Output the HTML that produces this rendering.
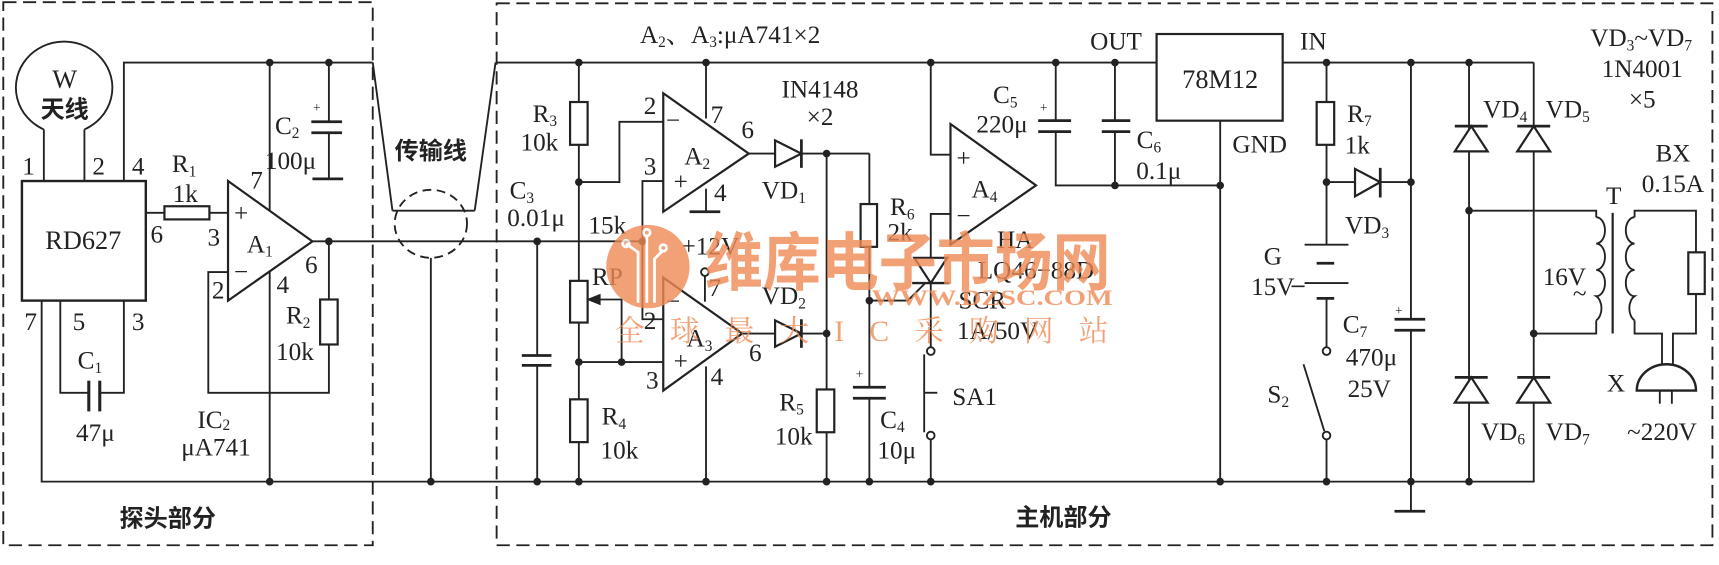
<!DOCTYPE html>
<html><head><meta charset="utf-8"><style>
html,body{margin:0;padding:0;background:#fff;}
svg{display:block;}
text{font-family:"Liberation Serif","Noto Serif CJK SC",serif;fill:#222;}
.cn{font-family:"Liberation Sans","Noto Sans CJK SC",sans-serif;font-weight:bold;}
</style></head><body>
<svg width="1719" height="565" viewBox="0 0 1568 515" preserveAspectRatio="none" xmlns="http://www.w3.org/2000/svg">
<g fill="none" stroke="#222" stroke-width="1.7">
<rect x="3" y="2" width="337" height="495" stroke-dasharray="12,6"/>
<rect x="453" y="3" width="1109" height="494" stroke-dasharray="12,6"/>
<polyline points="113,165 113,57 340,57"/>
<polyline points="340,57 358,192"/><polyline points="452,57 433,192"/>
<line x1="358" y1="192" x2="433" y2="192"/>
<ellipse cx="393" cy="204" rx="33" ry="31" stroke-dasharray="8,5"/>
<line x1="393" y1="235" x2="393" y2="439"/>
<path d="M40,118 A44,42 0 1 1 77,118"/>
<line x1="40" y1="118" x2="40" y2="165"/><line x1="77" y1="118" x2="77" y2="165"/>
<rect x="20" y="165" width="113" height="109" stroke-width="2.2"/>
<line x1="133" y1="194" x2="150" y2="194"/><rect x="150" y="188" width="41" height="12" stroke-width="2"/><line x1="191" y1="194" x2="208" y2="194"/>
<polygon points="208,165 208,274 285,220" stroke-width="2"/>
<line x1="246" y1="57" x2="246" y2="192"/><line x1="246" y1="247" x2="246" y2="439"/>
<line x1="300" y1="57" x2="300" y2="111"/>
<line x1="284" y1="111" x2="312" y2="111" stroke-width="2.5"/><line x1="284" y1="121" x2="312" y2="121" stroke-width="2.5"/>
<line x1="300" y1="121" x2="300" y2="163"/><line x1="285" y1="163" x2="313" y2="163" stroke-width="2.5"/>
<line x1="285" y1="220" x2="586" y2="220"/>
<line x1="300" y1="220" x2="300" y2="273"/><rect x="292" y="273" width="16" height="41" stroke-width="2"/>
<polyline points="300,314 300,358 190,358 190,248 208,248"/>
<polyline points="55,274 55,358 81,358"/><polyline points="113,274 113,358 91,358"/>
<line x1="81" y1="347" x2="81" y2="375" stroke-width="2.8"/><line x1="91" y1="347" x2="91" y2="375" stroke-width="2.8"/>
<polyline points="38,274 38,439 1113,439"/>
<polyline points="1113,439 1399,439 1399,57"/>
<line x1="490" y1="220" x2="490" y2="324"/>
<line x1="476" y1="324" x2="503" y2="324" stroke-width="2.5"/><line x1="476" y1="333" x2="503" y2="333" stroke-width="2.5"/>
<line x1="490" y1="333" x2="490" y2="439"/>
<line x1="452" y1="57" x2="1055" y2="57"/>
<line x1="1170" y1="57" x2="1399" y2="57"/>
<line x1="528" y1="57" x2="528" y2="93"/><rect x="520" y="93" width="16" height="39" stroke-width="2"/>
<line x1="528" y1="132" x2="528" y2="256"/><rect x="520" y="256" width="16" height="38" stroke-width="2"/>
<line x1="528" y1="294" x2="528" y2="364"/><rect x="520" y="364" width="16" height="39" stroke-width="2"/>
<line x1="528" y1="403" x2="528" y2="439"/>
<polyline points="528,166 565,166 565,111 605,111"/>
<polyline points="567,330 567,273 538,273"/><polygon points="537,273 547,269 547,277" fill="#222"/>
<line x1="528" y1="330" x2="605" y2="330"/>
<polyline points="586,220 586,165 605,165"/><polyline points="586,220 586,291 605,291"/>
<polygon points="605,85 605,193 683,140" stroke-width="2"/>
<line x1="644" y1="57" x2="644" y2="108"/>
<line x1="644" y1="172" x2="644" y2="193"/><line x1="629" y1="193" x2="657" y2="193" stroke-width="2.5"/>
<polygon points="605,253 605,356 677,304" stroke-width="2"/>
<circle cx="643" cy="248" r="3.5"/><line x1="643" y1="251" x2="643" y2="275"/>
<line x1="644" y1="334" x2="644" y2="439"/>
<line x1="683" y1="140" x2="707" y2="140"/><polygon points="707,128 707,152 731,140" stroke-width="2"/><line x1="731" y1="127" x2="731" y2="153" stroke-width="2.5"/>
<line x1="731" y1="140" x2="793" y2="140"/>
<line x1="677" y1="304" x2="707" y2="304"/><polygon points="707,292 707,316 731,304" stroke-width="2"/><line x1="731" y1="291" x2="731" y2="317" stroke-width="2.5"/>
<line x1="731" y1="304" x2="754" y2="304"/>
<line x1="754" y1="140" x2="754" y2="355"/><rect x="745" y="355" width="16" height="39" stroke-width="2"/><line x1="754" y1="394" x2="754" y2="439"/>
<line x1="793" y1="140" x2="793" y2="186"/><rect x="785" y="186" width="15" height="39" stroke-width="2"/>
<line x1="793" y1="225" x2="793" y2="353"/>
<line x1="778" y1="353" x2="808" y2="353" stroke-width="2.5"/><line x1="778" y1="363" x2="808" y2="363" stroke-width="2.5"/>
<line x1="793" y1="363" x2="793" y2="439"/>
<polyline points="793,274 828,274 844,258"/>
<polygon points="867,113 867,223 945,169" stroke-width="2"/>
<polyline points="849,57 849,141 867,141"/>
<polyline points="867,195 849,195 849,235"/>
<polygon points="834,235 864,235 849,258" stroke-width="2"/><line x1="832" y1="258" x2="866" y2="258" stroke-width="2.2"/>
<line x1="849" y1="258" x2="849" y2="316"/>
<circle cx="849" cy="320" r="3.5"/><circle cx="849" cy="397" r="3.5"/>
<line x1="843" y1="323" x2="843" y2="394"/><line x1="843" y1="358" x2="855" y2="358"/>
<line x1="849" y1="401" x2="849" y2="439"/>
<line x1="963" y1="57" x2="963" y2="110"/>
<line x1="947" y1="110" x2="977" y2="110" stroke-width="2.5"/><line x1="947" y1="120" x2="977" y2="120" stroke-width="2.5"/>
<polyline points="963,120 963,169 1113,169"/>
<line x1="1017" y1="57" x2="1017" y2="110"/>
<line x1="1005" y1="110" x2="1031" y2="110" stroke-width="2.5"/><line x1="1005" y1="120" x2="1031" y2="120" stroke-width="2.5"/>
<line x1="1017" y1="120" x2="1017" y2="169"/>
<rect x="1055" y="31" width="115" height="79" stroke-width="2"/>
<line x1="1113" y1="110" x2="1113" y2="439"/>
<line x1="1210" y1="57" x2="1210" y2="93"/><rect x="1201" y="93" width="16" height="39" stroke-width="2"/>
<line x1="1210" y1="132" x2="1210" y2="223"/>
<line x1="1210" y1="166" x2="1236" y2="166"/><polygon points="1236,154 1236,179 1259,166" stroke-width="2"/><line x1="1259" y1="153" x2="1259" y2="180" stroke-width="2.5"/>
<line x1="1259" y1="166" x2="1287" y2="166"/>
<line x1="1190" y1="223" x2="1230" y2="223"/><line x1="1201" y1="240" x2="1217" y2="240" stroke-width="2.5"/>
<line x1="1190" y1="258" x2="1230" y2="258"/><line x1="1201" y1="272" x2="1217" y2="272" stroke-width="2.5"/>
<line x1="1210" y1="272" x2="1210" y2="317"/><circle cx="1210" cy="320" r="3.5"/>
<line x1="1189" y1="332" x2="1208" y2="393"/><circle cx="1210" cy="397" r="3.5"/>
<line x1="1210" y1="401" x2="1210" y2="439"/>
<line x1="1287" y1="57" x2="1287" y2="291"/>
<line x1="1272" y1="291" x2="1300" y2="291" stroke-width="2.5"/><line x1="1272" y1="301" x2="1300" y2="301" stroke-width="2.5"/>
<line x1="1287" y1="301" x2="1287" y2="466"/><line x1="1272" y1="466" x2="1300" y2="466" stroke-width="2.5"/>
<line x1="1340" y1="57" x2="1340" y2="439"/>
<polygon points="1327,138 1357,138 1342,115" fill="#fff" stroke-width="2"/><line x1="1327" y1="115" x2="1357" y2="115" stroke-width="2.5"/>
<polygon points="1384,138 1414,138 1399,115" fill="#fff" stroke-width="2"/><line x1="1384" y1="115" x2="1414" y2="115" stroke-width="2.5"/>
<polygon points="1327,367 1357,367 1342,344" fill="#fff" stroke-width="2"/><line x1="1327" y1="344" x2="1357" y2="344" stroke-width="2.5"/>
<polygon points="1384,367 1414,367 1399,344" fill="#fff" stroke-width="2"/><line x1="1384" y1="344" x2="1414" y2="344" stroke-width="2.5"/>
<polyline points="1340,192 1456,192 1456,198"/>
<polyline points="1399,304 1456,304 1456,292"/>
<path d="M1456,198 a8,12 0 0 1 0,24 a8,12 0 0 1 0,24 a8,12 0 0 1 0,24 a8,12 0 0 1 0,22"/>
<line x1="1471" y1="194" x2="1471" y2="304" stroke-width="2"/>
<path d="M1491,198 a8,12 0 0 0 0,24 a8,12 0 0 0 0,24 a8,12 0 0 0 0,24 a8,12 0 0 0 0,22"/>
<polyline points="1491,198 1491,192 1547,192 1547,230"/>
<rect x="1540" y="230" width="15" height="38" stroke-width="2"/>
<polyline points="1547,268 1547,304 1526,304 1526,332"/>
<polyline points="1491,292 1491,304 1516,304 1516,332"/>
<path d="M1493,356 A27,24 0 0 1 1547,356 Z" stroke-width="2.2"/>
<line x1="1514" y1="356" x2="1514" y2="368"/><line x1="1525" y1="356" x2="1525" y2="368"/>
</g>
<g fill="#222">
<circle cx="246" cy="57" r="3.5"/><circle cx="300" cy="57" r="3.5"/><circle cx="300" cy="220" r="3.5"/>
<circle cx="246" cy="439" r="3.5"/><circle cx="393" cy="439" r="3.5"/><circle cx="490" cy="439" r="3.5"/><circle cx="490" cy="220" r="3.5"/>
<circle cx="528" cy="57" r="3.5"/><circle cx="528" cy="166" r="3.5"/><circle cx="528" cy="330" r="3.5"/><circle cx="567" cy="330" r="3.5"/><circle cx="528" cy="439" r="3.5"/>
<circle cx="586" cy="220" r="3.5"/><circle cx="644" cy="57" r="3.5"/><circle cx="644" cy="439" r="3.5"/>
<circle cx="754" cy="140" r="3.5"/><circle cx="754" cy="304" r="3.5"/><circle cx="754" cy="439" r="3.5"/>
<circle cx="793" cy="274" r="3.5"/><circle cx="793" cy="439" r="3.5"/><circle cx="849" cy="57" r="3.5"/><circle cx="849" cy="439" r="3.5"/>
<circle cx="963" cy="57" r="3.5"/><circle cx="1017" cy="57" r="3.5"/><circle cx="1017" cy="169" r="3.5"/><circle cx="1113" cy="169" r="3.5"/><circle cx="1113" cy="439" r="3.5"/>
<circle cx="1210" cy="57" r="3.5"/><circle cx="1287" cy="57" r="3.5"/><circle cx="1340" cy="57" r="3.5"/>
<circle cx="1210" cy="166" r="3.5"/><circle cx="1287" cy="166" r="3.5"/>
<circle cx="1210" cy="439" r="3.5"/><circle cx="1287" cy="439" r="3.5"/><circle cx="1340" cy="439" r="3.5"/>
<circle cx="1340" cy="192" r="3.5"/><circle cx="1399" cy="304" r="3.5"/>
</g>
<g font-size="23" text-anchor="middle">
<text x="59" y="80" font-size="24">W</text><text x="59" y="107" class="cn" font-size="22">天线</text>
<text x="26" y="159">1</text><text x="90" y="159">2</text><text x="126" y="159">4</text>
<text x="76" y="227" font-size="24">RD627</text>
<text x="143" y="221">6</text><text x="28" y="301">7</text><text x="72" y="301">5</text><text x="126" y="301">3</text>
<text x="168" y="157">R<tspan font-size="14" dy="4">1</tspan></text><text x="169" y="184">1k</text>
<text x="220" y="202">+</text><text x="220" y="255">−</text>
<text x="195" y="224">3</text><text x="199" y="272">2</text>
<text x="237" y="230">A<tspan font-size="14" dy="4">1</tspan></text>
<text x="234" y="172">7</text><text x="284" y="249">6</text><text x="258" y="267">4</text>
<text x="289" y="102" font-size="12">+</text>
<text x="262" y="122">C<tspan font-size="14" dy="4">2</tspan></text><text x="265" y="154">100μ</text>
<text x="272" y="295">R<tspan font-size="14" dy="4">2</tspan></text><text x="269" y="328">10k</text>
<text x="82" y="336">C<tspan font-size="14" dy="4">1</tspan></text><text x="87" y="402">47μ</text>
<text x="195" y="390">IC<tspan font-size="14" dy="2">2</tspan></text><text x="197" y="415">μA741</text>
<text x="153" y="480" class="cn" font-size="22">探头部分</text>
<text x="393" y="145" class="cn" font-size="22">传输线</text>
<text x="476" y="181">C<tspan font-size="14" dy="4">3</tspan></text><text x="489" y="206">0.01μ</text>
<text x="497" y="111">R<tspan font-size="14" dy="4">3</tspan></text><text x="492" y="137">10k</text>
<text x="554" y="213">15k</text>
<text x="554" y="260">RP</text>
<text x="560" y="387">R<tspan font-size="14" dy="4">4</tspan></text><text x="565" y="418">10k</text>
<text x="666" y="39">A<tspan font-size="14" dy="4">2</tspan><tspan dy="-4">、A</tspan><tspan font-size="14" dy="4">3</tspan><tspan dy="-4">:μA741×2</tspan></text>
<text x="593" y="104">2</text><text x="654" y="112">7</text><text x="682" y="126">6</text><text x="593" y="159">3</text><text x="657" y="183">4</text>
<text x="614" y="117">−</text><text x="621" y="173">+</text>
<text x="636" y="150">A<tspan font-size="14" dy="4">2</tspan></text>
<text x="648" y="232">+12V</text>
<text x="652" y="270">7</text><text x="593" y="300">2</text><text x="595" y="354">3</text><text x="689" y="329">6</text><text x="654" y="351">4</text>
<text x="614" y="282">−</text><text x="621" y="337">+</text>
<text x="638" y="316">A<tspan font-size="14" dy="4">3</tspan></text>
<text x="748" y="89">IN4148</text><text x="748" y="114">×2</text>
<text x="715" y="181">VD<tspan font-size="14" dy="4">1</tspan></text><text x="715" y="277">VD<tspan font-size="14" dy="4">2</tspan></text>
<text x="722" y="374">R<tspan font-size="14" dy="4">5</tspan></text><text x="724" y="405">10k</text>
<text x="823" y="196">R<tspan font-size="14" dy="4">6</tspan></text><text x="821" y="219">2k</text>
<text x="784" y="345" font-size="12">+</text>
<text x="814" y="390">C<tspan font-size="14" dy="4">4</tspan></text><text x="818" y="418">10μ</text>
<text x="889" y="369">SA1</text>
<text x="879" y="152">+</text><text x="879" y="204">−</text>
<text x="898" y="180">A<tspan font-size="14" dy="4">4</tspan></text>
<text x="926" y="226">HA</text><text x="945" y="254">LQ46−88D</text><text x="896" y="281">SCR</text><text x="910" y="309">1A/50V</text>
<text x="952" y="102" font-size="12">+</text>
<text x="917" y="94">C<tspan font-size="14" dy="4">5</tspan></text><text x="914" y="121">220μ</text>
<text x="1048" y="135">C<tspan font-size="14" dy="4">6</tspan></text><text x="1057" y="163">0.1μ</text>
<text x="1018" y="45">OUT</text><text x="1198" y="45">IN</text>
<text x="1113" y="80" font-size="24">78M12</text><text x="1149" y="139">GND</text>
<text x="1240" y="111">R<tspan font-size="14" dy="4">7</tspan></text><text x="1238" y="140">1k</text>
<text x="1247" y="213">VD<tspan font-size="14" dy="4">3</tspan></text>
<text x="1161" y="241">G</text><text x="1161" y="269">15V</text><line x1="1178" y1="261" x2="1190" y2="261" stroke="#222" stroke-width="1.5"/>
<text x="1166" y="367">S<tspan font-size="14" dy="4">2</tspan></text>
<text x="1276" y="287" font-size="12">+</text>
<text x="1236" y="303">C<tspan font-size="14" dy="4">7</tspan></text><text x="1251" y="333">470μ</text><text x="1249" y="362">25V</text>
<text x="1373" y="107">VD<tspan font-size="14" dy="4">4</tspan></text><text x="1430" y="107">VD<tspan font-size="14" dy="4">5</tspan></text>
<text x="1371" y="401" fill="#2a5a6a">VD<tspan font-size="14" dy="4">6</tspan></text><text x="1430" y="401">VD<tspan font-size="14" dy="4">7</tspan></text>
<text x="1497" y="42">VD<tspan font-size="14" dy="4">3</tspan><tspan dy="-4">~VD</tspan><tspan font-size="14" dy="4">7</tspan></text>
<text x="1498" y="70">1N4001</text><text x="1498" y="98">×5</text>
<text x="1526" y="147">BX</text><text x="1526" y="175">0.15A</text><text x="1472" y="186">T</text>
<text x="1427" y="260">16V</text><text x="1441" y="275">~</text>
<text x="1474" y="357">X</text><text x="1516" y="401">~220V</text>
<text x="970" y="479" class="cn" font-size="22">主机部分</text>
</g>
<g opacity="0.8">
<circle cx="591" cy="243" r="38" fill="#f08a55"/>
<g stroke="#fff" stroke-width="2.5" fill="none"><path d="M582,276 V230 L571,222"/><path d="M590,276 V215"/><path d="M597,276 V236 L605,228"/><circle cx="571" cy="222" r="3"/><circle cx="590" cy="212" r="3"/><circle cx="605" cy="226" r="3"/></g>
<text x="828" y="260" text-anchor="middle" font-size="58" class="cn" style="fill:#f08a55" textLength="370" lengthAdjust="spacingAndGlyphs">维库电子市场网</text>
<text x="905" y="278" text-anchor="middle" font-size="20" font-family="Liberation Sans" font-weight="bold" style="fill:#f08a55" textLength="220" lengthAdjust="spacingAndGlyphs">WWW.DZSC.COM</text>
<text x="786" y="311" text-anchor="middle" font-size="27" font-family="Liberation Sans,Noto Sans CJK SC,sans-serif" style="fill:#f08a55" textLength="450">全 球 最 大 I C 采 购 网 站</text>
</g>
</svg>
</body></html>
